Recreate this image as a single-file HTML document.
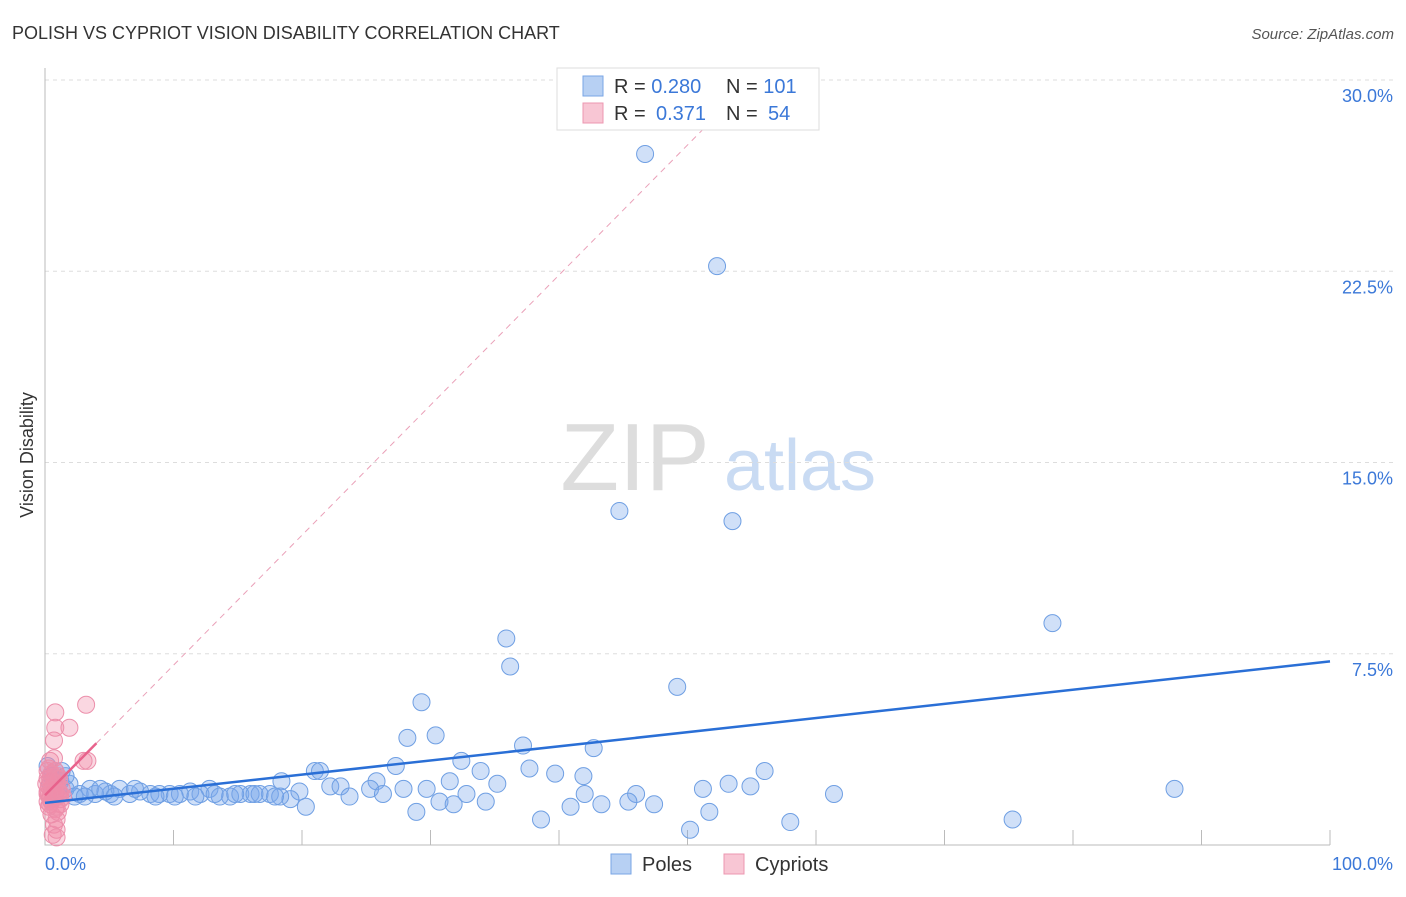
<!DOCTYPE html>
<html><head><meta charset="utf-8"><style>
body{margin:0;background:#fff;font-family:"Liberation Sans",sans-serif;}
svg text{font-family:"Liberation Sans",sans-serif;}
</style></head><body>
<svg id="c" width="1406" height="892">
<text x="12" y="39" font-size="18" fill="#333">POLISH VS CYPRIOT VISION DISABILITY CORRELATION CHART</text>
<text x="1394" y="39" font-size="15" font-style="italic" fill="#555" text-anchor="end">Source: ZipAtlas.com</text>
<text x="33" y="455" font-size="18" fill="#333" text-anchor="middle" transform="rotate(-90 33 455)">Vision Disability</text>
<g><text x="635" y="490" font-size="96" font-family="Liberation Serif" fill="#ddd" text-anchor="middle">ZIP</text><text x="800" y="490" font-size="72" fill="#c9dbf3" text-anchor="middle">atlas</text></g>
<g id="grid"></g><g id="marks"></g>
<g>
<rect x="557" y="68" width="262" height="62" fill="#fff" stroke="#ddd"/>
<rect x="583" y="76" width="20" height="20" fill="#b7d0f3" stroke="#7aa6e6"/>
<rect x="583" y="103" width="20" height="20" fill="#f8c6d4" stroke="#ec97b0"/>
<text x="614" y="93" font-size="20" fill="#333">R = <tspan fill="#3b78d8">0.280</tspan><tspan x="726">N = </tspan><tspan fill="#3b78d8">101</tspan></text>
<text x="614" y="120" font-size="20" fill="#333">R = <tspan x="656" fill="#3b78d8">0.371</tspan><tspan x="726">N = </tspan><tspan x="768" fill="#3b78d8">54</tspan></text>
</g>
<g>
<rect x="611" y="854" width="20" height="20" fill="#b7d0f3" stroke="#7aa6e6"/><text x="642" y="871" font-size="20" fill="#333">Poles</text>
<rect x="724" y="854" width="20" height="20" fill="#f8c6d4" stroke="#ec97b0"/><text x="755" y="871" font-size="20" fill="#333">Cypriots</text>
</g>
</svg>
<script>
const yTicks=[7.5,15,22.5,30];
const yTickLabels=["7.5%","15.0%","22.5%","30.0%"];
const xTickLabels=["0.0%","100.0%"];
const polesX=[46.7,52.3,44.7,53.5,78.4,35.9,36.2,49.2,29.3,28.2,30.4,37.2,42.7,32.4,27.3,33.9,37.7,39.7,41.9,56.0,21.0,21.4,18.4,25.8,31.5,53.2,54.9,51.2,35.2,22.2,23.0,25.3,27.9,29.7,32.8,42.0,46.0,61.4,87.9,19.8,23.7,26.3,30.7,31.8,34.3,45.4,47.4,43.3,40.9,20.3,28.9,51.7,38.6,58.0,75.3,50.2,19.1,17.5,16.0,14.4,12.8,11.3,9.7,8.2,6.6,5.1,3.9,2.7,1.6,1.2,0.8,1.9,3.5,4.7,5.8,7.4,8.9,10.5,12.1,13.6,15.2,16.7,18.3,2.3,3.1,0.4,0.5,1.0,1.6,1.3,4.3,5.4,7.0,8.6,10.1,11.7,13.2,14.8,16.3,17.9,0.2];
const polesY=[27.1,22.7,13.1,12.7,8.7,8.1,7.0,6.2,5.6,4.2,4.3,3.9,3.8,3.3,3.1,2.9,3.0,2.8,2.7,2.9,2.9,2.9,2.5,2.5,2.5,2.4,2.3,2.2,2.4,2.3,2.3,2.2,2.2,2.2,2.0,2.0,2.0,2.0,2.2,2.1,1.9,2.0,1.7,1.6,1.7,1.7,1.6,1.6,1.5,1.5,1.3,1.3,1.0,0.9,1.0,0.6,1.8,2.0,2.0,1.9,2.2,2.1,2.0,2.0,2.0,2.0,2.0,2.0,2.2,2.5,2.9,2.4,2.2,2.1,2.2,2.1,2.0,2.0,2.0,1.9,2.0,2.0,1.9,1.9,1.9,2.4,2.7,2.2,2.7,2.9,2.2,1.9,2.2,1.9,1.9,1.9,2.0,2.0,2.0,1.9,3.1];
const cypX=[3.2,0.8,1.9,0.8,0.7,3.3,3.0,0.4,0.8,0.4,0.9,0.5,0.2,1.2,0.4,0.8,0.5,0.9,0.7,0.9,0.6,0.9,0.1,0.4,1.3,1.0,0.2,0.6,1.2,0.5,0.2,0.8,1.0,0.3,0.3,0.7,1.4,0.6,1.1,0.2,0.5,0.9,0.3,1.0,0.6,0.4,0.8,1.1,0.2,0.7,0.5,0.9,0.3,1.2];
const cypY=[5.5,5.2,4.6,4.6,4.1,3.3,3.3,3.3,2.9,2.6,2.4,2.2,2.0,1.8,1.6,1.4,1.2,1.0,0.8,0.6,0.4,0.3,2.4,1.8,2.2,2.7,2.9,1.8,1.6,2.5,2.1,2.0,1.3,1.5,3.0,3.4,1.9,2.3,2.1,1.7,2.8,2.6,2.3,1.9,2.1,1.9,2.4,2.6,2.6,2.2,1.7,1.5,2.0,2.0];
const polesTrend=[1.65,7.2];
const cypTrend=[1.95,0.51];
const X0=45,X1=1330,Y0=845,PX=25.5;
const sx=v=>X0+(X1-X0)*v/100, sy=v=>Y0-v*PX;
const NS="http://www.w3.org/2000/svg";
function mk(p,t,a){const e=document.createElementNS(NS,t);for(const k in a)e.setAttribute(k,a[k]);p.appendChild(e);return e;}
const g=document.getElementById('grid'),m=document.getElementById('marks');
yTicks.forEach((t,i)=>{
 const l=mk(g,'line',{x1:X0,x2:1394,y1:sy(t),y2:sy(t),stroke:'#ddd','stroke-dasharray':'4,4'});
 
 
 const tx=mk(g,'text',{x:1393,y:sy(t)+22,'font-size':18,fill:'#3b78d8','text-anchor':'end'});
 tx.textContent=yTickLabels[i];
 
 
});
const ax=mk(g,'path',{d:`M${X0} 68V${Y0}H${X1}`,stroke:'#bbb',fill:'none'});


for(let i=1;i<=10;i++){const t=mk(g,'line',{x1:sx(i*10),x2:sx(i*10),y1:Y0-15,y2:Y0,stroke:'#bbb'});
 
 }
[[0,45,'start'],[1,1393,'end']].forEach(([i,x,a])=>{const t=mk(g,'text',{x:x,y:870,'font-size':18,fill:'#3b78d8','text-anchor':a});t.textContent=xTickLabels[i];
 
 });
polesX.forEach((x,i)=>{const c=mk(m,'circle',{cx:sx(x),cy:sy(polesY[i]),r:8.5,fill:'rgba(120,165,235,0.35)',stroke:'#6f9fe3','stroke-width':1});
 
 });
cypX.forEach((x,i)=>{const c=mk(m,'circle',{cx:sx(x),cy:sy(cypY[i]),r:8.5,fill:'rgba(240,140,170,0.35)',stroke:'#ec8fab','stroke-width':1});
 
 });
const bl=mk(m,'line',{x1:sx(0),y1:sy(polesTrend[0]),x2:sx(100),y2:sy(polesTrend[1]),stroke:'#2a6fd6','stroke-width':2.5});


const xe=(28.5-cypTrend[0])/cypTrend[1];
const pd=mk(m,'line',{x1:sx(4),y1:sy(cypTrend[0]+4*cypTrend[1]),x2:sx(xe),y2:sy(28.5),stroke:'#eaa0b8','stroke-width':1,'stroke-dasharray':'6,5'});


const ps=mk(m,'line',{x1:sx(0),y1:sy(cypTrend[0]),x2:sx(4),y2:sy(cypTrend[0]+4*cypTrend[1]),stroke:'#e8628c','stroke-width':2.5});


</script>
</body></html>
